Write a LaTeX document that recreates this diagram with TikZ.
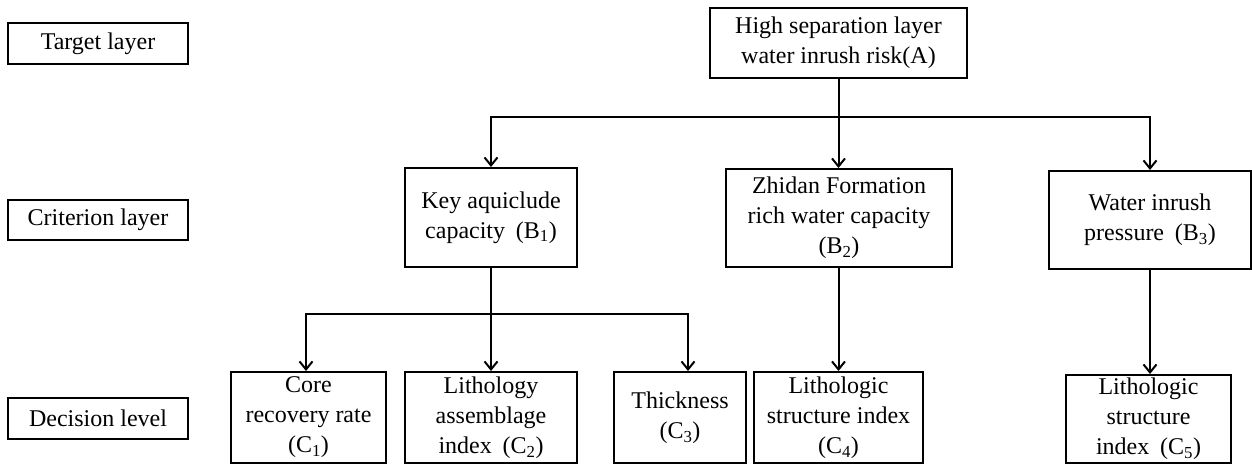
\documentclass[tikz,border=0pt]{standalone}
\usepackage{fontspec}
\setmainfont{Liberation Serif}
\usetikzlibrary{arrows.meta}
\newcommand{\sub}[1]{\textsubscript{#1}}
\newcommand{\fw}{\hspace{0.45em}}
\begin{document}
\begin{tikzpicture}[x=1pt,y=-1pt,
  box/.style={draw,line width=2pt,align=center,inner sep=0pt,
    font=\fontsize{24}{30}\selectfont},
  conn/.style={line width=2pt},
  arr/.style={conn,-{Straight Barb[length=8pt,width=13pt,line width=2pt]}}]
\useasboundingbox (0,0) rectangle (1252,464);
% level labels
\node[box,minimum width=180,minimum height=41] (T) at (98,43.5) {Target layer};
\node[box,minimum width=180,minimum height=40] (Cr) at (98,220) {Criterion layer};
\node[box,minimum width=180,minimum height=41] (D) at (98,418.5) {Decision level};
% goal
\node[box,minimum width=257,minimum height=70] (A) at (838.5,43) {High separation layer\\water inrush risk(A)};
% criteria
\node[box,minimum width=172,minimum height=99] (B1) at (491,217.5) {Key aquiclude\\capacity\fw(B\sub{1})};
\node[box,minimum width=226,minimum height=98] (B2) at (839,218) {Zhidan Formation\\rich water capacity\\(B\sub{2})};
\node[box,minimum width=202,minimum height=98] (B3) at (1150,220) {Water inrush\\pressure\fw(B\sub{3})};
% decisions
\node[box,minimum width=155,minimum height=91] (C1) at (308.5,417.5) {Core\\recovery rate\\(C\sub{1})};
\node[box,minimum width=172,minimum height=91] (C2) at (491,417.5) {Lithology\\assemblage\\index\fw(C\sub{2})};
\node[box,minimum width=132,minimum height=91] (C3) at (680,417.5) {Thickness\\(C\sub{3})};
\node[box,minimum width=169,minimum height=91] (C4) at (838.5,417.5) {Lithologic\\structure index\\(C\sub{4})};
\node[box,minimum width=165,minimum height=88] (C5) at (1148.5,419) {Lithologic\\structure\\index\fw(C\sub{5})};
% bus coordinates
\coordinate (abus) at (838.5,117);
\coordinate (bbus) at (491,314);
% connectors
\draw[conn] (A.south) -- (abus);
\draw[arr] (abus) -| (B1.north);
\draw[arr] (abus) -| (B3.north);
\draw[arr] (abus) -- (B2.north -| abus);
\draw[arr] (B1.south) -- (C2.north);
\draw[arr] (bbus) -| ([xshift=-2.5pt]C1.north);
\draw[arr] (bbus) -| ([xshift=8pt]C3.north);
\draw[arr] (B2.south -| abus) -- (C4.north -| abus);
\draw[arr] (B3.south) -- (C5.north -| B3.south);
\end{tikzpicture}
\end{document}
